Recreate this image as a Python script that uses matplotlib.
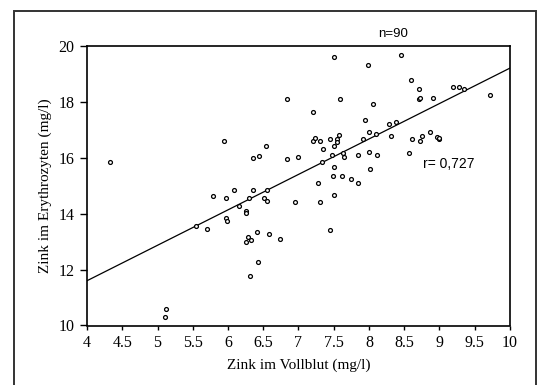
import numpy as np
import matplotlib
matplotlib.use("Agg")
import matplotlib.pyplot as plt
from matplotlib.patches import Rectangle

# Zink im Vollblut (x) / Zink im Erythrozyten (y), mg/l
vollblut = [4.33, 5.12, 5.11, 5.54, 5.70, 5.79, 5.95, 5.97, 5.97, 5.99,
            6.08, 6.15, 6.25, 6.26, 6.25, 6.29, 6.33, 6.30, 6.35, 6.36,
            6.44, 6.41, 6.43, 6.31, 6.51, 6.55, 6.54, 6.56, 6.58, 6.74,
            6.83, 6.83, 6.95, 7.00, 7.21, 7.21, 7.24, 7.28, 7.30, 7.31,
            7.35, 7.34, 7.44, 7.44, 7.47, 7.50, 7.49, 7.50, 7.50, 7.51,
            7.54, 7.55, 7.58, 7.59, 7.62, 7.63, 7.65, 7.74, 7.84, 7.84,
            7.91, 7.95, 7.99, 8.00, 8.00, 8.02, 8.05, 8.10, 8.12, 8.29,
            8.31, 8.38, 8.45, 8.59, 8.57, 8.61, 8.71, 8.71, 8.73, 8.75,
            8.91, 8.87, 8.97, 8.99, 9.19, 9.28, 9.35, 9.71, 8.72, 9.00]
erythro = [15.85, 10.59, 10.31, 13.57, 13.45, 14.64, 16.61, 14.57, 13.84, 13.73,
           14.86, 14.28, 14.09, 14.02, 13.00, 13.16, 13.06, 14.54, 14.84, 15.97,
           16.06, 13.33, 12.28, 11.77, 14.57, 14.44, 16.42, 14.86, 13.26, 13.09,
           18.10, 15.95, 14.41, 16.04, 17.63, 16.58, 16.69, 15.11, 14.40, 16.61,
           16.30, 15.85, 16.66, 13.42, 16.08, 16.43, 15.35, 15.65, 14.68, 19.58,
           16.67, 16.56, 16.81, 18.10, 15.35, 16.18, 16.03, 15.23, 15.11, 16.10,
           16.68, 17.35, 19.30, 16.92, 16.20, 15.61, 17.91, 16.83, 16.10, 17.19,
           16.77, 17.27, 19.68, 18.79, 16.18, 16.68, 18.44, 18.11, 16.60, 16.79,
           18.14, 16.90, 16.72, 16.67, 18.53, 18.51, 18.47, 18.25, 18.12, 16.70]

# Regressionsgerade (Endpunkte)
line_x = [4, 10]
line_y = [11.6, 19.2]

x_ticks = [4, 4.5, 5, 5.5, 6, 6.5, 7, 7.5, 8, 8.5, 9, 9.5, 10]
x_ticklabels = ["4", "4.5", "5", "5.5", "6", "6.5", "7", "7.5", "8", "8.5", "9", "9.5", "10"]
y_ticks = [10, 12, 14, 16, 18, 20]

fig = plt.figure(figsize=(5.42, 3.85), dpi=100)

# outer frame
fig.patches.append(Rectangle((14 / 542, -0.01), (536 - 14) / 542, 1 - 11 / 385 + 0.01,
                             transform=fig.transFigure, fill=False,
                             edgecolor="#333333", linewidth=1.4))

ax = fig.add_axes([87 / 542, 1 - 325.5 / 385, (510 - 87) / 542, (325.5 - 45.7) / 385])

ax.plot(line_x, line_y, color="black", linewidth=0.9)
ax.plot(vollblut, erythro, linestyle="none", marker="o", markersize=2.8,
        markerfacecolor="white", markeredgecolor="black", markeredgewidth=0.9)

ax.set_xlim(4, 10)
ax.set_ylim(10, 20)
ax.set_xticks(x_ticks)
ax.set_xticklabels(x_ticklabels)
ax.set_yticks(y_ticks)

for s in ax.spines.values():
    s.set_linewidth(1.2)

serif = "Liberation Serif"
ax.tick_params(axis="x", direction="out", length=3, width=1, pad=4, labelsize=11.5)
ax.tick_params(axis="y", direction="out", length=5, width=1, pad=4, labelsize=11.5)
for lab in ax.get_xticklabels() + ax.get_yticklabels():
    lab.set_fontfamily(serif)

ax.set_xlabel("Zink im Vollblut (mg/l)", fontfamily=serif, fontsize=11, labelpad=5)
ax.set_ylabel("Zink im Erythrozyten (mg/l)", fontfamily=serif, fontsize=11, labelpad=5)

ax.text(8.34, 1.042, "n=90", transform=ax.get_xaxis_transform(), ha="center", va="center",
        fontfamily="Liberation Sans", fontsize=9.5)
ax.text(8.76, 15.77, "r= 0,727", ha="left", va="center",
        fontfamily="Liberation Sans", fontsize=10)

fig.savefig("out.png", dpi=100)
